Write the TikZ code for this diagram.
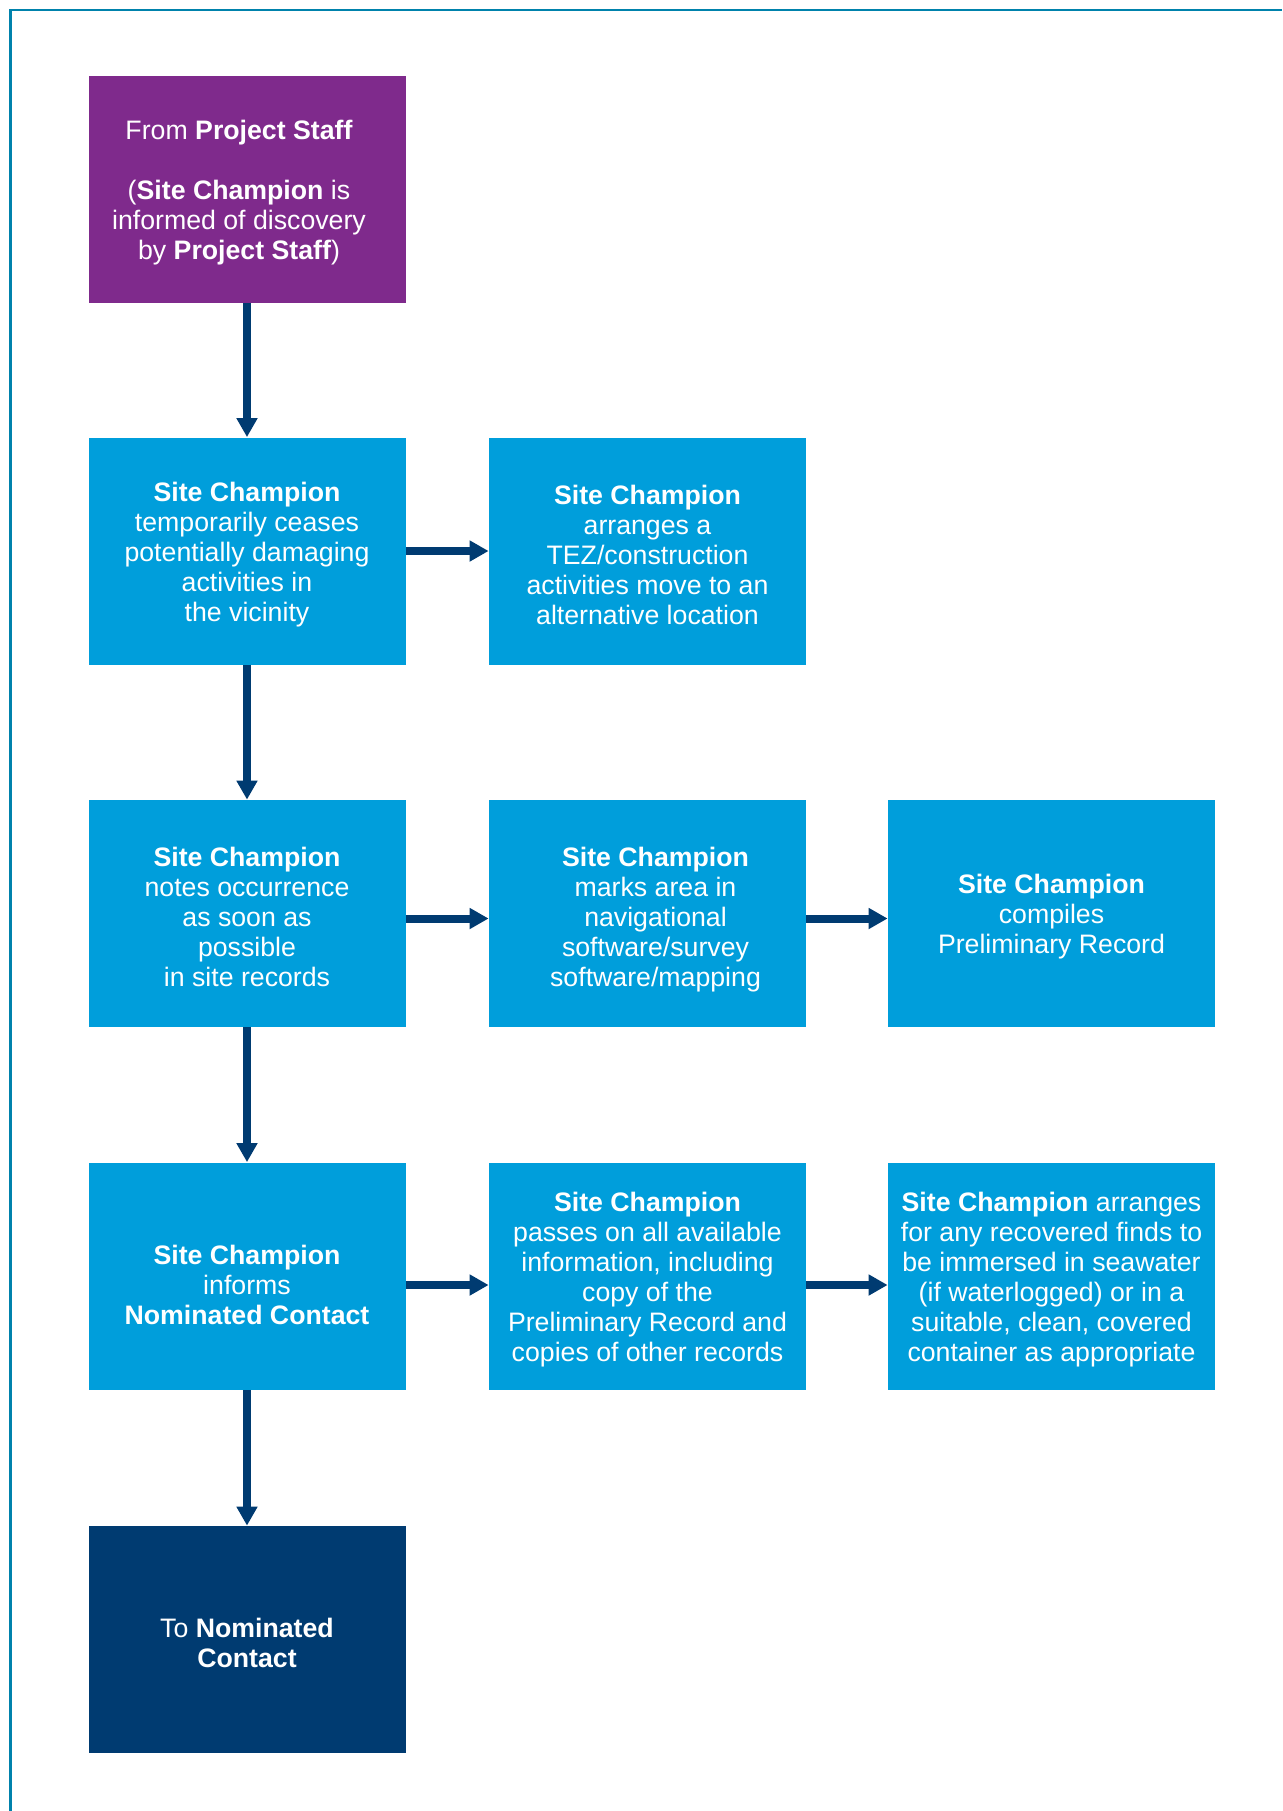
\documentclass[tikz,border=0pt]{standalone}
\usepackage{fontspec}
\setmainfont{Liberation Sans}
\usetikzlibrary{arrows.meta}
\definecolor{pur}{RGB}{127,42,140}
\definecolor{lblue}{RGB}{0,158,219}
\definecolor{navy}{RGB}{0,59,113}
\definecolor{framec}{RGB}{0,130,172}
\begin{document}
\begin{tikzpicture}[x=0.5pt,y=-0.5pt,
 box/.style={rectangle, fill=lblue, minimum width=158.5pt, minimum height=113.5pt, inner sep=0pt},
 wbox/.style={box, minimum width=163.5pt},
 txt/.style={text=white, align=center, inner sep=0pt, font=\fontsize{13.35pt}{15pt}\selectfont},
 arr/.style={navy, line width=4pt, -{Triangle[width=10pt,length=9.5pt]}}]
\fill[white] (0,0) rectangle (1282,1811);
\useasboundingbox (0,0) rectangle (1282,1811);
\draw[framec, line width=1.25pt] (10.5,1811) -- (10.5,10) -- (1282,10);

% boxes
\node[box, fill=pur] (s) at (247,189.5) {};
\node[box] (r2a) at (247,551) {};
\node[box] (r2b) at (647.5,551) {};
\node[box] (r3a) at (247,913.5) {};
\node[box] (r3b) at (647.5,913.5) {};
\node[wbox] (r3c) at (1051.5,913.5) {};
\node[box] (r4a) at (247,1276) {};
\node[box] (r4b) at (647.5,1276) {};
\node[wbox] (r4c) at (1051.5,1276) {};
\node[box, fill=navy] (e) at (247,1639.5) {};

% texts
\node[txt] (ts) at ([xshift=-4pt,yshift=-1.5pt]s.center) {From \textbf{Project Staff}\\[15pt](\textbf{Site Champion} is\\informed of discovery\\by \textbf{Project Staff})};
\node[txt] (t2a) at ([yshift=-1.75pt]r2a.center) {\textbf{Site Champion}\\temporarily ceases\\potentially damaging\\activities in\\the vicinity};
\node[txt] (t2b) at ([yshift=-1.75pt]r2b.center) {\textbf{Site Champion}\\arranges a\\TEZ/construction\\activities move to an\\alternative location};
\node[txt] (t3a) at ([yshift=-1.75pt]r3a.center) {\textbf{Site Champion}\\notes occurrence\\as soon as\\possible\\in site records};
\node[txt] (t3b) at ([xshift=4pt,yshift=-3pt]r3b.center) {\textbf{Site Champion}\\marks area in\\navigational\\software/survey\\software/mapping};
\node[txt] (t3c) at ([yshift=-1.75pt]r3c.center) {\textbf{Site Champion}\\compiles\\Preliminary Record};
\node[txt] (t4a) at ([yshift=-4.5pt]r4a.center) {\textbf{Site Champion}\\informs\\\textbf{Nominated Contact}};
\node[txt] (t4b) at ([yshift=-1.75pt]r4b.center) {\textbf{Site Champion}\\passes on all available\\information, including\\copy of the\\Preliminary Record and\\copies of other records};
\node[txt] (t4c) at ([yshift=-1.75pt]r4c.center) {\textbf{Site Champion} arranges\\for any recovered finds to\\be immersed in seawater\\(if waterlogged) or in a\\suitable, clean, covered\\container as appropriate};
\node[txt] (te) at ([yshift=-1.5pt]e.center) {To \textbf{Nominated}\\\textbf{Contact}};

% connectors
\draw[arr] (s) -- (r2a);
\draw[arr] (r2a) -- (r3a);
\draw[arr] (r3a) -- (r4a);
\draw[arr] (r4a) -- (e);
\draw[arr] (r2a) -- (r2b);
\draw[arr] ([yshift=-2.5pt]r3a.east) -- ([yshift=-2.5pt]r3b.west);
\draw[arr] ([yshift=-2.5pt]r3b.east) -- ([yshift=-2.5pt]r3c.west);
\draw[arr] ([yshift=-4.5pt]r4a.east) -- ([yshift=-4.5pt]r4b.west);
\draw[arr] ([yshift=-4.5pt]r4b.east) -- ([yshift=-4.5pt]r4c.west);
\end{tikzpicture}
\end{document}
